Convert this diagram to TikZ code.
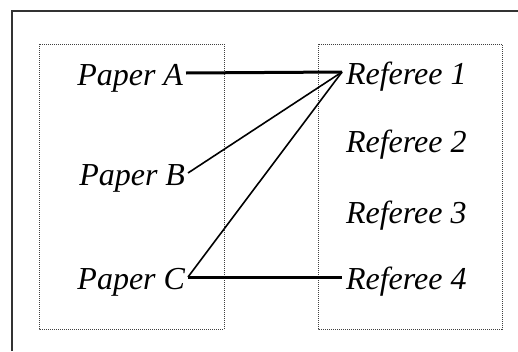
\documentclass[tikz,border=0pt]{standalone}
\usepackage{fontspec}
\setmainfont{Liberation Serif}
\begin{document}
\begin{tikzpicture}[x=1pt,y=-1pt,
  lbl/.style={font=\fontsize{32}{36}\selectfont\itshape, text height=24pt, text depth=0pt, inner ysep=0pt, outer sep=0pt},
  paper/.style={lbl, anchor=base east, inner xsep=3pt},
  referee/.style={lbl, anchor=base west, inner xsep=4pt},
  group/.style={draw=black!75, line width=0.9pt, dash pattern=on 1pt off 1pt},
  frame/.style={draw=black!80, line width=1.4pt},
  thickconn/.style={line width=3pt},
  thinconn/.style={line width=1.6pt}]
\useasboundingbox (0,0) rectangle (518,351);
\draw[frame] (12,351) -- (12,11) -- (518,11);
\draw[group] (39,44) rectangle (224,329);
\draw[group] (318,44) rectangle (502,329);
\node[paper] (pa) at (186,85) {Paper A};
\node[paper] (pb) at (188,185) {Paper B};
\node[paper] (pc) at (188,289) {Paper C};
\node[referee] (r1) at (342,84) {Referee 1};
\node[referee] (r2) at (342,152) {Referee 2};
\node[referee] (r3) at (342,223) {Referee 3};
\node[referee] (r4) at (342,289) {Referee 4};
\draw[thickconn] (pa.east) -- (r1.west);
\draw[thinconn] (pb.east) -- (r1.west);
\draw[thinconn] (pc.east) -- (r1.west);
\draw[thickconn] (pc.east) -- (r4.west);
\end{tikzpicture}
\end{document}
